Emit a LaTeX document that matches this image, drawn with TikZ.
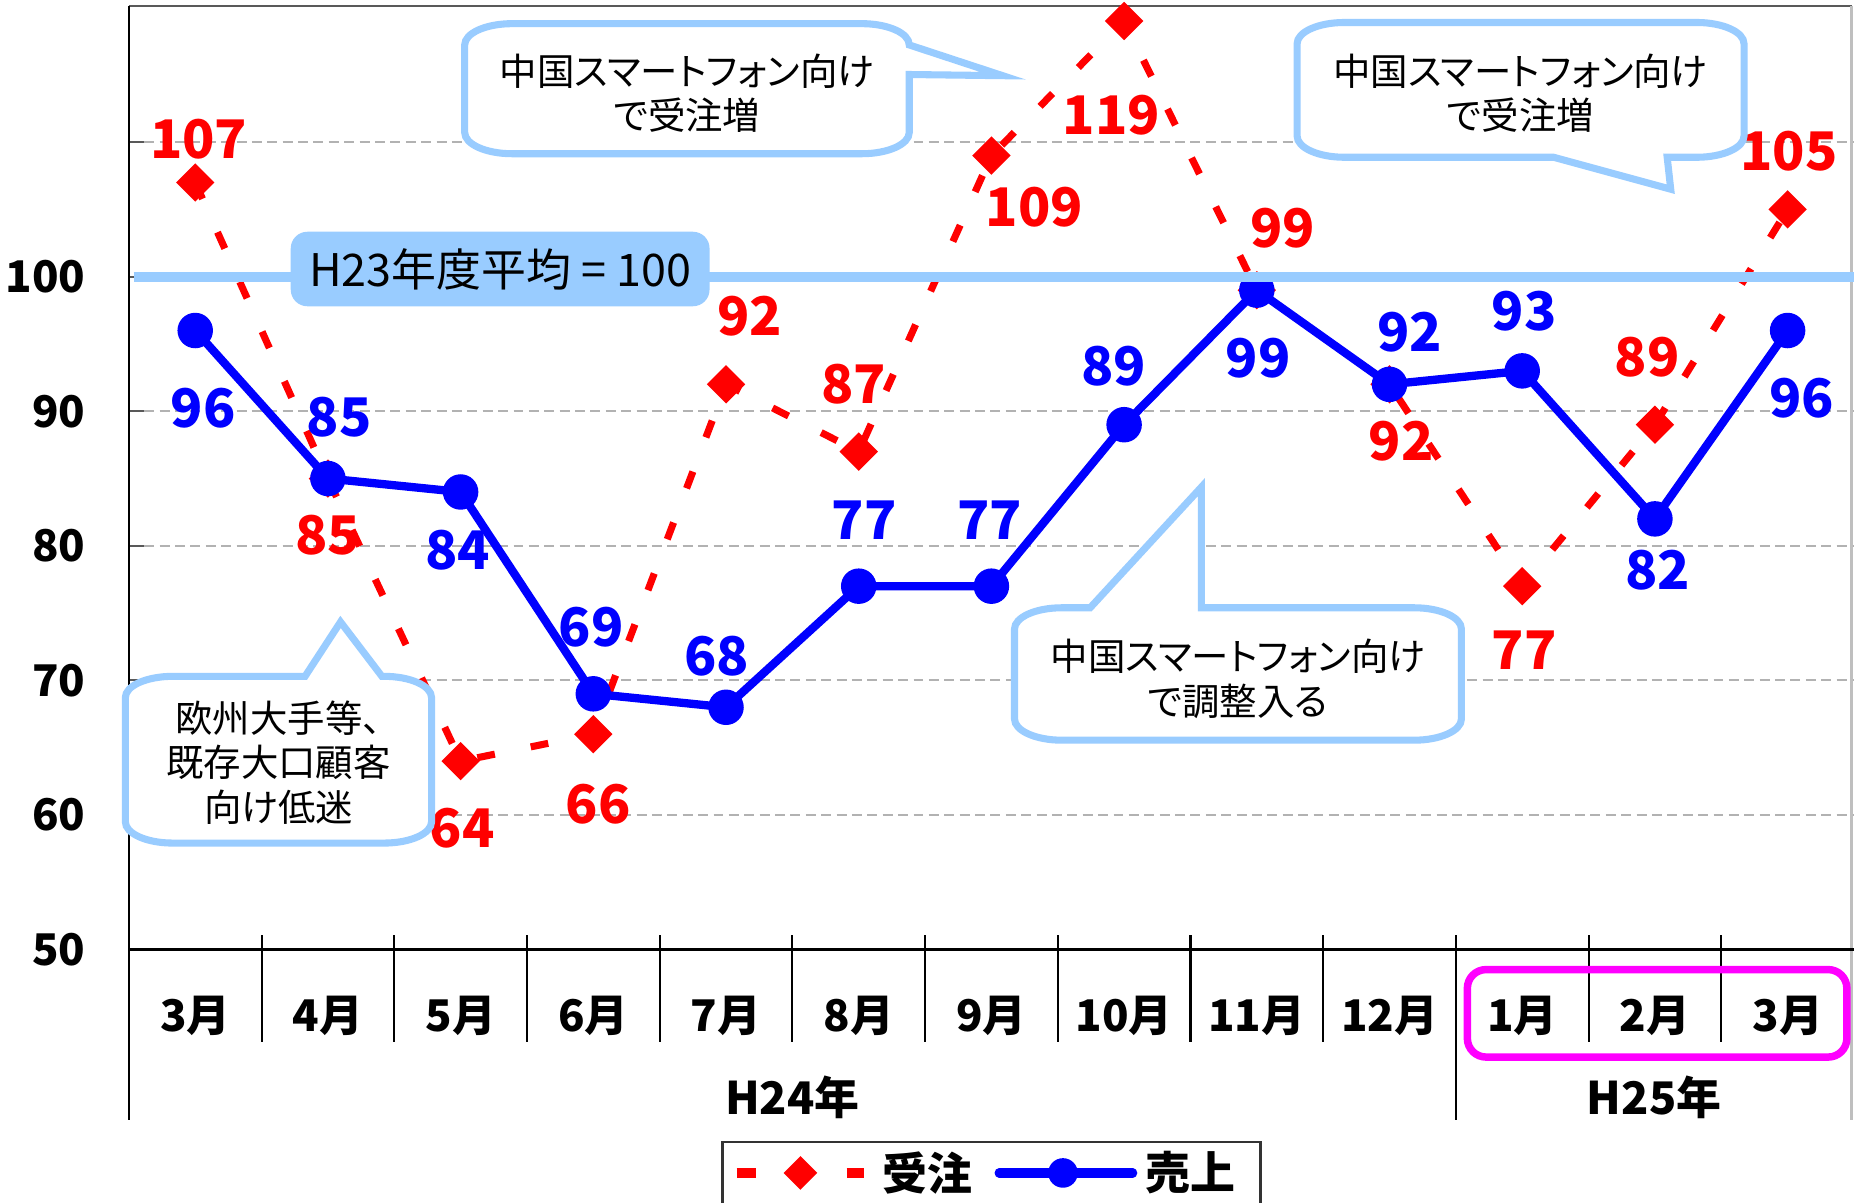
\documentclass[tikz,border=0pt]{standalone}
\usepackage{fontspec}
\setmainfont{Noto Sans CJK JP}
\newfontfamily\notefont{Noto Sans CJK JP}[RawFeature=+palt]
\usetikzlibrary{shapes.geometric}
\definecolor{avgblue}{HTML}{99CCFF}
\definecolor{framepink}{HTML}{FF00FF}
\tikzset{
  gridline/.style={gray!60, line width=0.5pt, dash pattern=on 2.4pt off 1.3pt},
  axisline/.style={black, line width=0.6pt},
  orderline/.style={red, line width=1.7pt, dash pattern=on 4.3pt off 8.8pt},
  salesline/.style={blue, line width=2pt},
  ordermark/.style={diamond, fill=red, inner sep=0pt, minimum size=0.33cm},
  salesmark/.style={circle, fill=blue, inner sep=0pt, minimum size=0.30cm},
  orderlabel/.style={text=red, font=\fontsize{12.8}{14}\selectfont\bfseries},
  saleslabel/.style={text=blue, font=\fontsize{12.8}{14}\selectfont\bfseries},
  axislabel/.style={font=\fontsize{10.5}{12}\selectfont\bfseries},
  callout/.style={draw=avgblue, line width=1.7pt, fill=white},
  notetext/.style={align=center, font=\notefont\fontsize{9}{10.5}\selectfont},
}
% value / label x / label y
\def\orderdata{107/168/118, 85/277/453, 64/391/700, 66/506/680, 92/634/267, 87/722/325, 109/875/175, 119/940/97, 99/1085/193, 92/1185/373, 77/1289/550, 89/1393/302, 105/1513/128}
\def\salesdata{96/172/345, 85/287/353, 84/387/465, 69/500/530, 68/606/555, 77/731/440, 77/837/440, 89/942/310, 99/1064/303, 92/1192/281, 93/1289/263, 82/1402/482, 96/1524/337}
\begin{document}
\begin{tikzpicture}[x=0.01cm, y=-0.01cm, line join=miter]
  \fill[white] (0,0) rectangle (1568,1017);
  \useasboundingbox (0,0) rectangle (1568,1017);
  % grid and axes
  \foreach \v in {60,70,...,110} {
    \draw[gridline] (109,{803-11.38*(\v-50)}) -- (1568,{803-11.38*(\v-50)});
    \draw[gray!70!black, line width=0.5pt] (109,{803-11.38*(\v-50)}) -- (122,{803-11.38*(\v-50)});
  }
  \foreach \v in {50,60,...,100}
    \node[axislabel, anchor=east, inner sep=0pt] (y\v) at (73,{803-11.38*(\v-50)}) {\v};
  \draw[gray!70!black, line width=0.6pt] (109,5) -- (1566,5);
  \draw[gray!50, line width=0.6pt] (1566,5) -- (1566,947);
  \draw[axisline] (109,5) -- (109,947);
  \draw[axisline] (109,803) -- (1568,803);
  \foreach \k in {1,...,9,11,12}
    \draw[axisline, line width=0.5pt] ({109+112.23*\k},791) -- ({109+112.23*\k},881);
  \draw[axisline, line width=0.5pt] ({109+112.23*10},791) -- ({109+112.23*10},947);
  \foreach \m [count=\i from 0] in {3,4,5,6,7,8,9,10,11,12,1,2,3}
    \node[axislabel] (mon\i) at ({165.1+112.23*\i},859) {\m 月};
  \node[axislabel, font=\fontsize{10.8}{12}\selectfont\bfseries] (h24) at (670,928) {H24年};
  \node[axislabel, font=\fontsize{10.8}{12}\selectfont\bfseries] (h25) at (1399,928) {H25年};
  \draw[framepink, line width=1.8pt, rounded corners=4.5pt] (1241,820) rectangle (1562,894);
  % data points
  \foreach \v/\lx/\ly [count=\i from 0] in \orderdata
    \coordinate (ord\i) at ({165.1+112.23*\i},{803-11.38*(\v-50)});
  \foreach \v/\lx/\ly [count=\i from 0] in \salesdata
    \coordinate (sal\i) at ({165.1+112.23*\i},{803-11.38*(\v-50)});
  \draw[orderline] (ord0) \foreach \i in {1,...,12} { -- (ord\i) };
  \foreach \i in {0,...,12}
    \node[ordermark] (ordm\i) at (ord\i) {};
  \draw[salesline] (sal0) \foreach \i in {1,...,12} { -- (sal\i) };
  \foreach \i in {0,...,12}
    \node[salesmark] (salm\i) at (sal\i) {};
  \foreach \v/\lx/\ly [count=\i from 0] in \orderdata
    \node[orderlabel] (ordl\i) at (\lx,\ly) {\v};
  \foreach \v/\lx/\ly [count=\i from 0] in \salesdata
    \node[saleslabel] (sall\i) at (\lx,\ly) {\v};
  % average line
  \draw[avgblue, line width=2.4pt] (113,234) -- (1568,234);
  \node[fill=avgblue, rounded corners=4pt, minimum width=3.54cm, minimum height=0.63cm,
    font=\fontsize{10.8}{12}\selectfont] (avg) at (423,227.5) {H23年度平均 = 100};
  % callouts
  \draw[callout] (433,20) -- (729,20) .. controls (751,20) and (769,28) .. (769,38)
    -- (848,64) -- (769,63) -- (769,112) .. controls (769,122) and (751,130) .. (729,130)
    -- (433,130) .. controls (411,130) and (393,122) .. (393,112)
    -- (393,38) .. controls (393,28) and (411,20) .. (433,20) -- cycle;
  \node[notetext] (note1) at (581,79) {中国スマートフォン向け\\で受注増};
  \draw[callout] (1137,19) -- (1435,19) .. controls (1457,19) and (1475,27) .. (1475,37)
    -- (1475,115) .. controls (1475,125) and (1457,133) .. (1435,133)
    -- (1410,133) -- (1413,160) -- (1314,133)
    -- (1137,133) .. controls (1115,133) and (1097,125) .. (1097,115)
    -- (1097,37) .. controls (1097,27) and (1115,19) .. (1137,19) -- cycle;
  \node[notetext] (note2) at (1286,79) {中国スマートフォン向け\\で受注増};
  \draw[callout] (146,572) -- (258,572) -- (288,526) -- (323,572)
    -- (325,572) .. controls (347,572) and (365,580) .. (365,590)
    -- (365,695) .. controls (365,705) and (347,713) .. (325,713)
    -- (146,713) .. controls (124,713) and (106,705) .. (106,695)
    -- (106,590) .. controls (106,580) and (124,572) .. (146,572) -- cycle;
  \node[notetext, font=\notefont\fontsize{9}{10.8}\selectfont] (note3) at (235.5,645) {欧州大手等、\\既存大口顧客\\向け低迷};
  \draw[callout] (898,514) -- (922,514) -- (1016,412) -- (1016,514)
    -- (1196,514) .. controls (1218,514) and (1236,522) .. (1236,532)
    -- (1236,608) .. controls (1236,618) and (1218,626) .. (1196,626)
    -- (898,626) .. controls (876,626) and (858,618) .. (858,608)
    -- (858,532) .. controls (858,522) and (876,514) .. (898,514) -- cycle;
  \node[notetext, font=\notefont\fontsize{9}{10.8}\selectfont] (note4) at (1047,574) {中国スマートフォン向け\\で調整入る};
  % legend
  \draw[black!80, line width=0.6pt] (611,1017) |- (1066,966) -- (1066,1017);
  \coordinate (lo1) at (623,992); \coordinate (lo2) at (639,992);
  \coordinate (lo3) at (716,992); \coordinate (lo4) at (731,992);
  \coordinate (ls1) at (845,992); \coordinate (ls2) at (958,992);
  \draw[red, line width=2.2pt] (lo1) -- (lo2);
  \draw[red, line width=2.2pt] (lo3) -- (lo4);
  \node[ordermark, minimum size=0.29cm] (legord) at (677,992) {};
  \node[axislabel, font=\fontsize{10.8}{12}\selectfont\bfseries] (legordtext) at (784.5,992) {受注};
  \draw[blue, line width=2.2pt, line cap=round] (ls1) -- (ls2);
  \node[salesmark, minimum size=0.25cm] (legsal) at (899,992) {};
  \node[axislabel, font=\fontsize{10.8}{12}\selectfont\bfseries] (legsaltext) at (1006.5,992) {売上};
\end{tikzpicture}
\end{document}
